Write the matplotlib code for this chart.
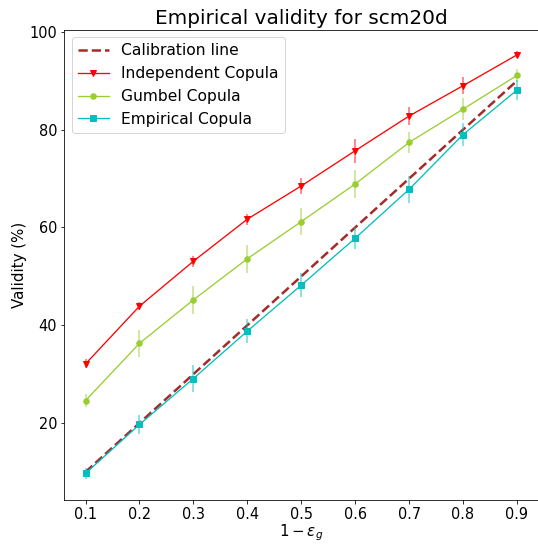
import numpy as np
import matplotlib
matplotlib.use("Agg")
import matplotlib.pyplot as plt

# data
levels = [0.1, 0.2, 0.3, 0.4, 0.5, 0.6, 0.7, 0.8, 0.9]
calibration = [10, 20, 30, 40, 50, 60, 70, 80, 90]

indep_mean = [32.1, 43.9, 53.1, 61.7, 68.5, 75.7, 82.8, 89.0, 95.3]
indep_err = [0.9, 0.8, 1.15, 1.1, 1.6, 2.5, 1.8, 1.7, 0.7]

gumbel_mean = [24.6, 36.3, 45.2, 53.6, 61.2, 68.9, 77.4, 84.2, 91.1]
gumbel_err = [1.3, 2.7, 2.9, 2.9, 2.7, 2.9, 2.2, 2.2, 1.3]

emp_mean = [9.7, 19.7, 29.1, 38.8, 48.2, 57.8, 67.8, 79.0, 88.1]
emp_err = [1.1, 2.0, 2.8, 2.4, 2.4, 2.2, 2.8, 2.3, 2.0]

W, H, DPI = 538, 544, 72
fig = plt.figure(figsize=(W / DPI, H / DPI), dpi=DPI)
ax = fig.add_axes([64 / W, 44 / H, (538.5 - 64) / W, (500 - 29.5) / H])

ax.plot(levels, calibration, '--', color='brown', lw=2.5, label='Calibration line')

series = [
    (indep_mean, indep_err, 'red', 'v', 'Independent Copula'),
    (gumbel_mean, gumbel_err, 'yellowgreen', 'o', 'Gumbel Copula'),
    (emp_mean, emp_err, 'c', 's', 'Empirical Copula'),
]
for mean, err, col, mk, lab in series:
    ax.errorbar(levels, mean, yerr=err, fmt='none', ecolor=col, elinewidth=1.5, alpha=0.6)
    ax.plot(levels, mean, color=col, marker=mk, markersize=5.5, lw=1.3, label=lab)

ax.set_xlim(0.06, 0.94)
ax.set_ylim(4.25, 100.5)
ax.set_xticks(levels)
ax.set_xticklabels([f'{v:.1f}' for v in levels])
ax.set_yticks([20, 40, 60, 80, 100])
ax.tick_params(labelsize=14.5)

ax.set_title('Empirical validity for scm20d', fontsize=20)
ax.set_xlabel(r'$1-\varepsilon_g$', fontsize=15, labelpad=0)
ax.set_ylabel('Validity (%)', fontsize=15, labelpad=2)
ax.legend(loc='upper left', fontsize=15.5)

fig.savefig('out.png', dpi=DPI)
